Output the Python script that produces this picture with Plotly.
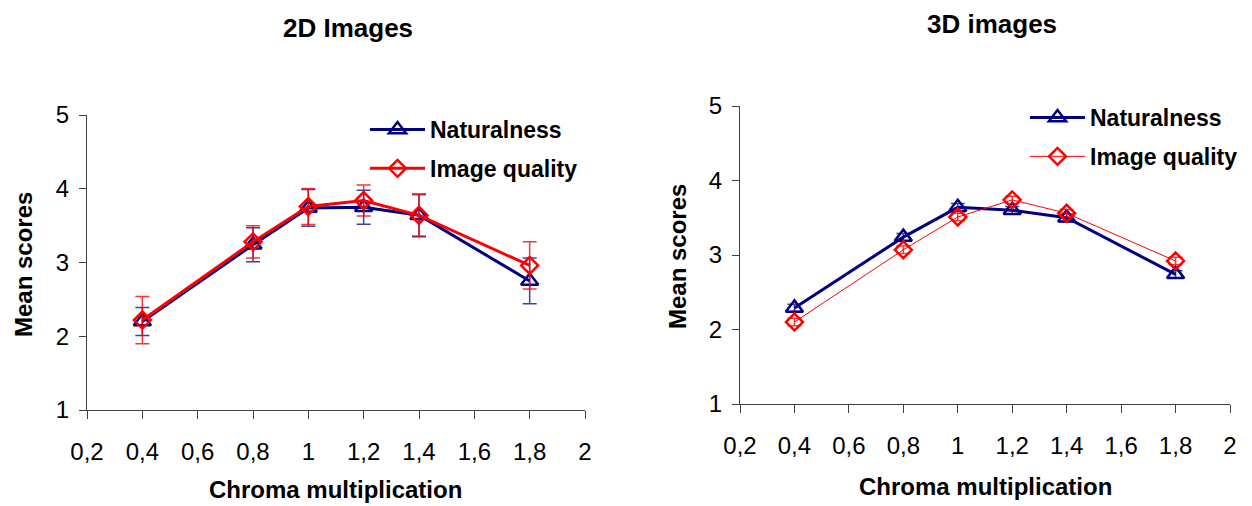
import plotly.graph_objects as go

# ---------------- data ----------------
chroma = [0.4, 0.8, 1.0, 1.2, 1.4, 1.8]

nat_2d = [2.20, 3.24, 3.74, 3.75, 3.64, 2.75]
nat_2d_err = [0.19, 0.23, 0.25, 0.23, 0.29, 0.31]
iq_2d = [2.22, 3.28, 3.76, 3.84, 3.64, 2.96]
iq_2d_err = [0.32, 0.22, 0.245, 0.21, 0.28, 0.32]

nat_3d = [2.29, 3.24, 3.64, 3.60, 3.50, 2.74]
nat_3d_err = [0.05, 0.05, 0.05, 0.05, 0.05, 0.05]
iq_3d = [2.10, 3.07, 3.51, 3.74, 3.56, 2.92]
iq_3d_err = [0.05, 0.05, 0.05, 0.05, 0.05, 0.05]

x_tickvals = [0.2, 0.4, 0.6, 0.8, 1.0, 1.2, 1.4, 1.6, 1.8, 2.0]
x_ticktext = ["0,2", "0,4", "0,6", "0,8", "1", "1,2", "1,4", "1,6", "1,8", "2"]
y_tickvals = [1, 2, 3, 4, 5]

titles = ["2D Images", "3D images"]
x_title = "Chroma multiplication"
y_title = "Mean scores"
series_names = ["Naturalness", "Image quality"]

# ---------------- style ----------------
FONT = "Liberation Sans, Arial, sans-serif"
NAVY = "#000080"
RED = "#FF0000"
PAGE_MARGIN = 8          # default body margin of the html page
W, H = 1252 - PAGE_MARGIN, 506 - PAGE_MARGIN


def px(x):
    """screen x pixel -> paper fraction"""
    return (x - PAGE_MARGIN) / W


def py(y):
    """screen y pixel -> paper fraction"""
    return 1 - (y - PAGE_MARGIN) / H


fig = go.Figure()


def add_pair(nat, nat_err, iq, iq_err, xa, ya, legend, iq_width, group_suffix):
    fig.add_trace(go.Scatter(
        x=chroma, y=nat, name=series_names[0], mode="lines+markers",
        xaxis=xa, yaxis=ya, legend=legend, legendgroup="n" + group_suffix,
        line=dict(color=NAVY, width=3),
        marker=dict(symbol="triangle-up-open", size=15, color=NAVY,
                    line=dict(width=2.5, color=NAVY)),
        error_y=dict(type="data", array=nat_err, visible=True,
                     color="rgba(0,0,128,0.75)", thickness=1.5, width=7),
    ))
    fig.add_trace(go.Scatter(
        x=chroma, y=iq, name=series_names[1], mode="lines+markers",
        xaxis=xa, yaxis=ya, legend=legend, legendgroup="q" + group_suffix,
        line=dict(color=RED, width=iq_width),
        marker=dict(symbol="diamond-open", size=13, color=RED,
                    line=dict(width=2.5, color=RED)),
        error_y=dict(type="data", array=iq_err, visible=True,
                     color="rgba(255,0,0,0.8)", thickness=1.5, width=7),
    ))


add_pair(nat_2d, nat_2d_err, iq_2d, iq_2d_err, "x", "y", "legend", 3, "1")
add_pair(nat_3d, nat_3d_err, iq_3d, iq_3d_err, "x2", "y2", "legend2", 1, "2")

tickfont = dict(family=FONT, size=24, color="black")


def xaxis(domain, anchor):
    return dict(domain=domain, anchor=anchor, range=[0.2, 2.0],
                tickvals=x_tickvals, ticktext=x_ticktext, ticks="outside",
                ticklen=8, tickcolor="#404040", showline=True, linecolor="#404040",
                linewidth=1, showgrid=False, zeroline=False, tickfont=tickfont,
                ticklabelstandoff=12, fixedrange=True, automargin=False)


def yaxis(domain, anchor):
    return dict(domain=domain, anchor=anchor, range=[1, 5],
                tickvals=y_tickvals, ticks="outside", ticklen=7,
                tickcolor="#404040", showline=True, linecolor="#404040",
                linewidth=1, showgrid=False, zeroline=False, tickfont=tickfont,
                ticklabelstandoff=5, fixedrange=True, automargin=False)


# plot areas (screen pixels -> paper fractions)
L_x = [px(87), px(585)]
L_y = [py(410), py(115)]
R_x = [px(740), px(1230)]
R_y = [py(404), py(106)]

legfont = dict(family=FONT, size=23, color="black", weight="bold")

fig.update_layout(
    width=W, height=H,
    margin=dict(l=0, r=0, t=0, b=0, pad=0, autoexpand=False),
    paper_bgcolor="white", plot_bgcolor="white",
    showlegend=True,
    xaxis=xaxis(L_x, "y"), yaxis=yaxis(L_y, "x"),
    xaxis2=xaxis(R_x, "y2"), yaxis2=yaxis(R_y, "x2"),
    legend=dict(x=px(365), y=py(108), xanchor="left", yanchor="top",
                font=legfont, bgcolor="rgba(0,0,0,0)", itemwidth=55,
                tracegroupgap=6, traceorder="grouped"),
    legend2=dict(x=px(1025), y=py(96), xanchor="left", yanchor="top",
                 font=legfont, bgcolor="rgba(0,0,0,0)", itemwidth=55,
                 tracegroupgap=6, traceorder="grouped"),
)

ann_bold = dict(family=FONT, size=24, color="black", weight="bold")
title_font = dict(family=FONT, size=26, color="black", weight="bold")
annotations = [
    dict(text=titles[0], x=px(348), y=py(28), font=title_font),
    dict(text=titles[1], x=px(992), y=py(24), font=title_font),
    dict(text=x_title, x=(L_x[0] + L_x[1]) / 2, y=py(489), font=ann_bold),
    dict(text=x_title, x=(R_x[0] + R_x[1]) / 2, y=py(486), font=ann_bold),
    dict(text=y_title, x=px(23), y=py(265), textangle=-90, font=ann_bold),
    dict(text=y_title, x=px(677), y=py(257), textangle=-90, font=ann_bold),
]
for a in annotations:
    a.update(xref="paper", yref="paper", showarrow=False,
             xanchor="center", yanchor="middle")
fig.update_layout(annotations=annotations)

fig.write_html("out.html")
